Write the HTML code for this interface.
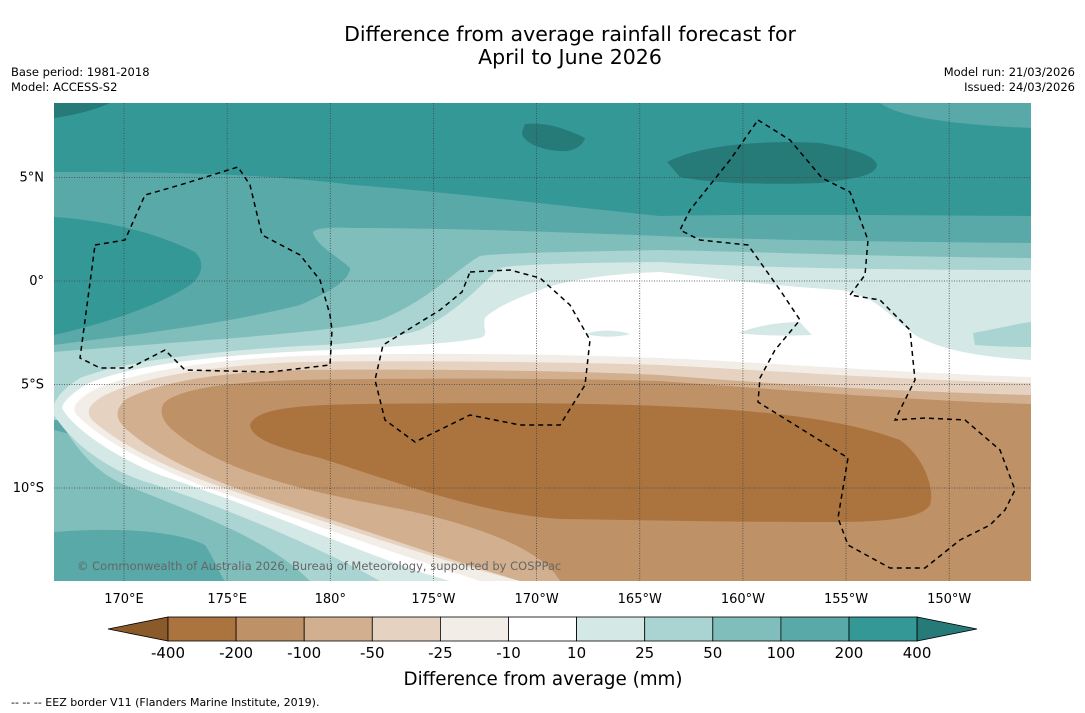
<!DOCTYPE html>
<html><head><meta charset="utf-8"><style>
body{margin:0;background:#fff;font-family:"DejaVu Sans","Liberation Sans",sans-serif;}
#wrap{position:relative;width:1085px;height:713px;overflow:hidden;background:#fff}
</style></head><body>
<div id="wrap">
<svg width="1085" height="713" viewBox="0 0 1085 713" xmlns="http://www.w3.org/2000/svg" font-family="DejaVu Sans, Liberation Sans, sans-serif">
<text x="570" y="41" font-size="20.5" text-anchor="middle">Difference from average rainfall forecast for</text>
<text x="570" y="64" font-size="20.5" text-anchor="middle">April to June 2026</text>
<text x="11" y="76" font-size="11.5">Base period: 1981-2018</text>
<text x="11" y="91" font-size="11.5">Model: ACCESS-S2</text>
<text x="1075" y="76" font-size="11.5" text-anchor="end">Model run: 21/03/2026</text>
<text x="1075" y="91" font-size="11.5" text-anchor="end">Issued: 24/03/2026</text>
<defs><clipPath id="mc"><rect x="54" y="103" width="977" height="478"/></clipPath></defs>
<g clip-path="url(#mc)">
<rect x="54" y="103" width="977" height="478" fill="#58a9a8"/>
<path fill="#349896" d="M54,103 H1031 V216 C900,215 760,214 660,216 C550,205 450,192 354,185 C250,172 150,172 54,172 Z"/>
<path fill="#58a9a8" d="M880,103 H1031 V128 C960,125 900,118 880,103 Z"/>
<path fill="#349896" d="M54,217 C100,220 150,230 195,252 C205,262 203,275 190,285 C160,305 110,322 54,335 Z"/>
<path fill="#267a78" d="M54,103 H110 C95,110 75,115 54,118 Z"/>
<path fill="#267a78" d="M525,124 C545,122 565,128 585,138 C582,148 570,152 560,151 C540,150 522,142 522,132 Z"/>
<path fill="#267a78" d="M667,162 C700,145 760,140 820,143 C850,148 875,155 877,165 C875,175 860,178 820,183 C760,185 710,183 680,177 Z"/>
<path fill="#80bebc" d="M1031,243 C900,242 760,240 660,236 C560,232 450,228 354,228 C330,227 316,228 313,232 C315,245 340,258 350,268 C350,280 330,292 300,305 C220,325 130,335 54,345 L54,420 L1031,420 Z"/>
<path fill="#a9d4d2" d="M1031,258 C900,257 760,252 660,250 C560,252 500,253 480,256 C455,270 430,300 380,320 C330,333 200,340 54,352 L54,420 L1031,420 Z"/>
<path fill="#80bebc" d="M54,430 L54,532 C100,528 170,528 205,545 C215,560 220,575 225,581 L650,581 Z"/>
<path fill="#a9d4d2" d="M54,410 C70,440 90,470 125,485 C200,515 270,540 310,581 L700,581 Z"/>
<path fill="#d4e8e6" d="M1031,270 C900,270 760,268 660,262 C560,263 510,265 500,268 C480,285 460,310 420,330 C380,342 330,345 300,346 C200,352 120,362 80,378 C64,388 56,398 54,405 L54,415 C70,440 100,465 140,480 C220,505 300,540 360,570 L380,581 L1031,581 Z"/>
<path fill="#ffffff" d="M1031,360 C980,357 940,350 915,335 C890,315 880,305 870,300 C855,293 845,290 840,290 C760,285 700,276 660,272 C600,274 560,282 540,290 C510,300 490,312 485,318 C482,328 490,335 480,338 C450,344 400,346 330,350 C200,355 120,368 85,385 C70,395 63,402 62,408 C70,425 110,455 160,475 C250,505 330,540 420,572 L450,581 L1031,581 Z"/>
<path fill="#f3ede7" d="M1031,377 C900,373 760,362 660,358 C560,354 400,352 300,356 C200,360 120,375 90,392 C75,402 72,408 76,414 C100,440 150,465 200,485 C300,520 400,555 480,581 L1031,581 Z"/>
<path fill="#e5d2c0" d="M1031,383 C900,380 760,370 660,365 C560,362 400,360 300,362 C200,366 130,380 100,398 C88,406 86,412 92,420 C120,445 170,470 230,490 C320,520 420,555 520,581 L1031,581 Z"/>
<path fill="#d2b08f" d="M1031,395 C900,392 760,383 660,375 C560,370 400,369 300,370 C210,372 150,385 125,400 C115,410 115,418 125,428 C160,460 220,485 300,510 C380,535 450,560 520,581 L1031,581 Z"/>
<path fill="#bf9166" d="M1031,404 C900,400 760,388 660,381 C560,378 400,378 300,380 C220,382 180,390 165,402 C158,410 162,422 175,432 C220,470 300,490 380,505 C460,520 540,545 560,581 L1031,581 Z"/>
<path fill="#ab743f" d="M250,425 C255,410 290,405 360,404 C460,403 560,402 660,406 C760,410 840,418 900,440 C925,458 935,490 930,505 C920,520 880,522 820,522 C720,522 640,520 560,519 C480,514 390,480 320,458 C280,448 252,440 250,425 Z"/>
<path fill="#a9d4d2" d="M973,333 C1000,328 1020,323 1031,322 V347 C1010,347 990,346 975,345 Z"/>
<path fill="#d4e8e6" d="M739,333 C755,326 780,322 800,322 C805,328 810,333 812,335 C790,336 760,336 739,333 Z"/>
<path fill="#d4e8e6" d="M586,334 C595,330 615,329 630,334 C620,337 600,338 586,334 Z"/>
<g stroke="#444" stroke-width="0.8" stroke-dasharray="1,1.5" fill="none" id="grid"></g>
<g fill="none" stroke="#000" stroke-width="1.5" stroke-dasharray="5,4">
<path d="M95,245 L125,240 L145,195 L180,185 L238,167 L250,185 L262,235 L300,255 L320,280 L330,315 L332,330 L330,365 L270,372 L185,370 L165,350 L130,368 L100,368 L80,358 Z"/>
<path d="M470,272 L510,270 L540,278 L570,305 L590,340 L585,385 L560,425 L520,425 L470,415 L415,442 L385,420 L375,380 L383,345 L440,310 L462,292 Z"/>
<path d="M758,120 L790,140 L822,178 L850,192 L868,240 L865,275 L850,295 L880,300 L910,330 L915,380 L895,420 L925,418 L965,420 L1000,450 L1015,490 L1005,510 L990,525 L960,540 L925,568 L890,568 L848,545 L838,518 L848,458 L758,402 L760,378 L775,350 L800,320 L780,290 L748,245 L700,240 L680,230 L690,210 L730,160 Z"/>
</g>
<text x="77" y="570" font-size="11.5" fill="#666" font-family="DejaVu Sans, sans-serif">© Commonwealth of Australia 2026, Bureau of Meteorology, supported by COSPPac</text>
</g>
<g id="axislabels" font-size="13"></g>
<g id="cbar"></g>
<text x="543" y="685" font-size="18.3" text-anchor="middle">Difference from average (mm)</text>
<text x="11" y="706" font-size="11">--  --  -- EEZ border V11 (Flanders Marine Institute, 2019).</text>
</svg>
</div>
<script>
const lonLabels=["170°E","175°E","180°","175°W","170°W","165°W","160°W","155°W","150°W"];
const lonValues=[170,175,180,185,190,195,200,205,210];
const latLabels=["5°N","0°","5°S","10°S"];
const latValues=[5,0,-5,-10];
const levelLabels=["-400","-200","-100","-50","-25","-10","10","25","50","100","200","400"];
const levelColors=["#ab743f","#bf9166","#d2b08f","#e5d2c0","#f3ede7","#ffffff","#d4e8e6","#a9d4d2","#80bebc","#58a9a8","#349896"];
const NS="http://www.w3.org/2000/svg";
const xLon=v=>124+(v-170)*20.63;
const yLat=v=>281-v*20.7;
const grid=document.getElementById('grid');
const al=document.getElementById('axislabels');
lonValues.forEach((v,i)=>{
 const l=document.createElementNS(NS,'line');
 
 
 l.setAttribute('x1',xLon(v));l.setAttribute('x2',xLon(v));l.setAttribute('y1',103);l.setAttribute('y2',581);
 grid.appendChild(l);
 const t=document.createElementNS(NS,'text');
 
 
 t.setAttribute('x',xLon(v));t.setAttribute('y',603);t.setAttribute('text-anchor','middle');
 t.textContent=lonLabels[i];al.appendChild(t);
});
latValues.forEach((v,i)=>{
 const l=document.createElementNS(NS,'line');
 
 
 l.setAttribute('x1',54);l.setAttribute('x2',1031);l.setAttribute('y1',yLat(v));l.setAttribute('y2',yLat(v));
 grid.appendChild(l);
 const t=document.createElementNS(NS,'text');
 
 
 t.setAttribute('x',44);t.setAttribute('y',yLat(v)+4);t.setAttribute('text-anchor','end');
 t.textContent=latLabels[i];al.appendChild(t);
});
const cb=document.getElementById('cbar');
const x0=168,w=68.1,y0=617,h=24;
const left=document.createElementNS(NS,'polygon');


left.setAttribute('points',`108,${y0+h/2} ${x0},${y0} ${x0},${y0+h}`);
left.setAttribute('fill','#8b5a2b');left.setAttribute('stroke','#000');left.setAttribute('stroke-width','0.8');
cb.appendChild(left);
levelColors.forEach((c,i)=>{
 const r=document.createElementNS(NS,'rect');
 
 
 r.setAttribute('x',x0+i*w);r.setAttribute('y',y0);r.setAttribute('width',w);r.setAttribute('height',h);
 r.setAttribute('fill',c);r.setAttribute('stroke','#000');r.setAttribute('stroke-width','0.8');
 cb.appendChild(r);
});
const xe=x0+levelColors.length*w;
const right=document.createElementNS(NS,'polygon');


right.setAttribute('points',`${xe},${y0} ${xe},${y0+h} 977,${y0+h/2}`);
right.setAttribute('fill','#267a78');right.setAttribute('stroke','#000');right.setAttribute('stroke-width','0.8');
cb.appendChild(right);
levelLabels.forEach((s,i)=>{
 const t=document.createElementNS(NS,'text');
 
 
 t.setAttribute('x',x0+i*w);t.setAttribute('y',658);t.setAttribute('text-anchor','middle');t.setAttribute('font-size','15');
 t.textContent=s;cb.appendChild(t);
});
</script>
</body></html>
